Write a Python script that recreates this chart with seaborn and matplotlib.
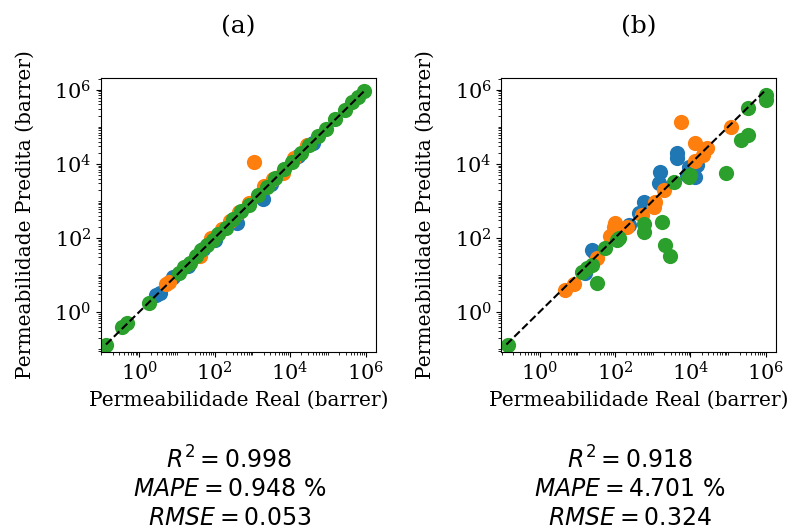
import matplotlib
matplotlib.use('Agg')
import matplotlib.pyplot as plt
import matplotlib.ticker as mticker
import numpy as np
import seaborn as sns

# values, in log10(barrer)
a_blue_real = [0.45, 0.55, 0.9, 1.3, 1.7, 2.0, 2.6, 3.28, 3.5, 4.2, 4.6]
a_blue_pred = [0.45, 0.5, 0.95, 1.25, 1.7, 1.95, 2.4, 3.05, 3.45, 4.2, 4.55]
a_orange_real = [0.7, 0.8, 1.6, 1.9, 2.2, 2.4, 2.65, 2.9, 3.04, 3.3, 3.55, 3.8, 4.1, 4.45]
a_orange_pred = [0.75, 0.82, 1.5, 2.0, 2.25, 2.45, 2.7, 2.95, 4.05, 3.4, 3.6, 3.75, 4.15, 4.5]
a_green_real = [-0.88, -0.45, -0.32, 0.25, 1.05, 1.2, 1.35, 1.5, 1.65, 1.8, 1.95, 2.1, 2.3, 2.5,
                2.7, 2.9, 3.15, 3.4, 3.6, 3.85, 4.05, 4.3, 4.5, 4.75, 4.95, 5.2, 5.45, 5.65, 5.8, 5.97]
a_green_pred = [-0.88, -0.42, -0.3, 0.24, 1.05, 1.22, 1.33, 1.52, 1.68, 1.8, 1.93, 2.1, 2.28, 2.52,
                2.72, 2.88, 3.15, 3.38, 3.62, 3.85, 4.05, 4.3, 4.5, 4.75, 4.95, 5.2, 5.45, 5.67, 5.8, 5.97]

b_blue_real = [1.2, 1.39, 1.44, 2.37, 2.64, 2.77, 3.17, 3.2, 3.65, 3.65, 3.92, 3.97, 4.11, 4.16]
b_blue_pred = [1.05, 1.68, 1.62, 2.35, 2.68, 2.97, 3.49, 3.78, 4.16, 4.3, 3.7, 3.92, 3.65, 3.97]
b_orange_real = [0.67, 0.91, 1.52, 1.87, 1.97, 2.0, 2.32, 2.72, 3.04, 3.07, 3.31, 3.76, 4.13, 4.13,
                 4.32, 4.45, 5.07]
b_orange_pred = [0.59, 0.76, 1.46, 2.05, 2.3, 2.41, 2.3, 2.62, 2.84, 2.97, 3.3, 5.14, 4.57, 4.08,
                 4.24, 4.43, 5.0]
b_green_real = [-0.83, 1.12, 1.25, 1.39, 1.52, 1.73, 2.05, 2.11, 2.77, 2.77, 3.25, 3.33, 3.47, 3.57,
                3.97, 4.0, 4.93, 5.33, 5.52, 5.52, 6.0, 6.0]
b_green_pred = [-0.88, 1.08, 1.19, 1.27, 0.78, 1.73, 1.95, 2.0, 2.38, 2.16, 2.43, 1.81, 1.51, 3.51,
                3.65, 3.7, 3.76, 4.65, 4.78, 5.51, 5.86, 5.73]

titles = ['(a)', '(b)']
metrics = [
    [r'$R^2 = 0.998$', r'$MAPE = 0.948\ \%$', r'$RMSE = 0.053$'],
    [r'$R^2 = 0.918$', r'$MAPE = 4.701\ \%$', r'$RMSE = 0.324$'],
]

panels = [
    [(a_blue_real, a_blue_pred), (a_orange_real, a_orange_pred), (a_green_real, a_green_pred)],
    [(b_blue_real, b_blue_pred), (b_orange_real, b_orange_pred), (b_green_real, b_green_pred)],
]

plt.rcParams['font.family'] = 'DejaVu Serif'

fig, axes = plt.subplots(1, 2, figsize=(7.96, 5.3), dpi=100)
fig.subplots_adjust(left=0.127, right=0.975, bottom=0.336, top=0.853, wspace=0.458)

colors = ['tab:blue', 'tab:orange', 'tab:green']
major_ticks = [10.0 ** e for e in range(-2, 8, 2)]
minor_ticks = [m * 10.0 ** e for e in range(-2, 7) for m in range(1, 10)]

for ax, series, title, lines in zip(axes, panels, titles, metrics):
    all_vals = []
    for (real, pred), c in zip(series, colors):
        x = 10 ** np.array(real)
        y = 10 ** np.array(pred)
        sns.scatterplot(x=x, y=y, ax=ax, color=c, s=120, linewidth=0, zorder=2)
        all_vals += list(x) + list(y)

    lo, hi = min(all_vals), max(all_vals)
    ax.plot([lo, hi], [lo, hi], 'k--', lw=1.5, zorder=3)

    ax.set_xscale('log')
    ax.set_yscale('log')
    for axis in (ax.xaxis, ax.yaxis):
        axis.set_major_locator(mticker.FixedLocator(major_ticks))
        axis.set_minor_locator(mticker.FixedLocator(minor_ticks))
        axis.set_minor_formatter(mticker.NullFormatter())
    ax.set_xlim(10 ** -1.01, 10 ** 6.27)
    ax.set_ylim(10 ** -1.08, 10 ** 6.32)
    ax.tick_params(labelsize=15)
    ax.set_title(title, fontsize=18, pad=32)
    ax.set_xlabel('Permeabilidade Real (barrer)', fontsize=14.5)
    ax.set_ylabel('Permeabilidade Predita (barrer)', fontsize=14.5, labelpad=14)

    cx = (ax.get_position().x0 + ax.get_position().x1) / 2 - 0.011
    for i, txt in enumerate(lines):
        fig.text(cx, 0.132 - i * 0.055, txt, ha='center', va='center', fontsize=17)

fig.savefig('out.png', dpi=100)
